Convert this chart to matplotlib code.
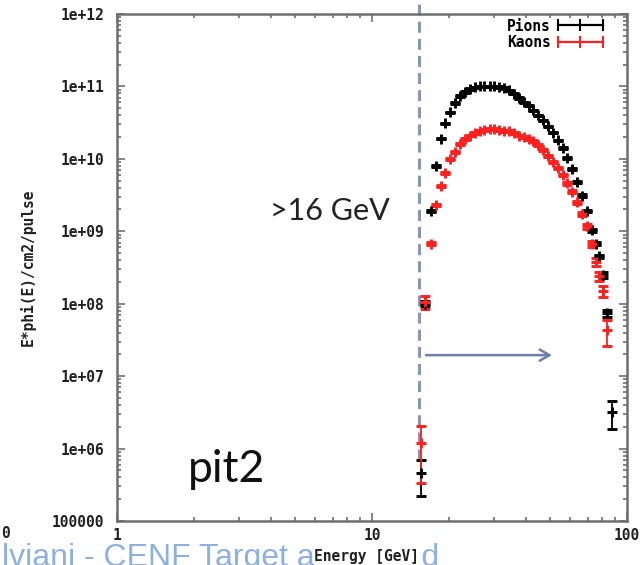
import numpy as np
from matplotlib import pyplot as plt
from matplotlib.lines import Line2D
from matplotlib.legend_handler import HandlerLine2D
from matplotlib.ticker import FixedLocator, NullFormatter

# energy bins [GeV], shared by both series
energy = [15.6, 16.2, 17.0, 17.8, 18.6, 19.4, 20.3, 21.2, 22.2, 23.2, 24.2, 25.3, 26.4, 27.6,
          28.9, 30.2, 31.5, 33.0, 34.4, 36.0, 37.6, 39.3, 41.1, 42.9, 44.8, 46.9, 49.0, 51.2,
          53.5, 55.9, 58.4, 61.0, 63.8, 66.6, 69.6, 72.8, 75.5, 78.0, 80.5, 83.5, 87.0]

pions = [4.6e5, 1.0e8, 1.9e9, 8.0e9, 1.9e10, 3.1e10, 4.4e10, 5.9e10, 7.4e10, 8.4e10, 9.2e10,
         9.7e10, 1.0e11, 1.0e11, 1.0e11, 1.0e11, 9.8e10, 9.5e10, 8.8e10, 7.9e10, 6.9e10, 6.0e10,
         5.4e10, 4.7e10, 4.0e10, 3.4e10, 2.8e10, 2.3e10, 1.8e10, 1.4e10, 1.03e10, 7.2e9, 4.8e9,
         3.1e9, 1.9e9, 1.04e9, 6.7e8, 4.5e8, 2.5e8, 7.4e7, 3.2e6]
pions_relerr = [0.52, 0.08, 0.03, 0.02, 0.02, 0.02, 0.02, 0.02, 0.02, 0.02, 0.02, 0.02, 0.02,
                0.02, 0.02, 0.02, 0.02, 0.02, 0.02, 0.02, 0.02, 0.02, 0.02, 0.02, 0.02, 0.02,
                0.02, 0.02, 0.02, 0.03, 0.03, 0.03, 0.03, 0.04, 0.04, 0.05, 0.05, 0.06, 0.08,
                0.12, 0.42]

kaons = [1.2e6, 1.05e8, 6.7e8, 2.3e9, 4.2e9, 6.4e9, 9.9e9, 1.24e10, 1.6e10, 1.9e10, 2.1e10,
         2.3e10, 2.4e10, 2.5e10, 2.55e10, 2.55e10, 2.5e10, 2.45e10, 2.4e10, 2.27e10, 2.1e10,
         2.0e10, 1.87e10, 1.76e10, 1.55e10, 1.32e10, 1.09e10, 9.0e9, 7.5e9, 6.0e9, 4.6e9, 3.5e9,
         2.5e9, 1.73e9, 1.18e9, 6.7e8, 3.8e8, 2.4e8, 1.5e8, 4.3e7, np.nan]
kaons_relerr = [0.72, 0.20, 0.05, 0.04, 0.03, 0.03, 0.03, 0.03, 0.03, 0.03, 0.03, 0.03, 0.03,
                0.03, 0.03, 0.03, 0.03, 0.03, 0.03, 0.03, 0.03, 0.03, 0.03, 0.03, 0.03, 0.03,
                0.03, 0.03, 0.04, 0.04, 0.05, 0.05, 0.06, 0.07, 0.08, 0.10, 0.12, 0.15, 0.18,
                0.40, 0.0]

series_names = ['Pions', 'Kaons']
series_colors = ['black', '#ff2020']

yticks = [1e5, 1e6, 1e7, 1e8, 1e9, 1e10, 1e11, 1e12]
ytick_labels = ['100000', '1e+06', '1e+07', '1e+08', '1e+09', '1e+10', '1e+11', '1e+12']
xticks = [1, 10, 100]
xtick_labels = ['1', '10', '100']

cut_energy = 15.3          # dashed threshold line
arrow_from, arrow_to, arrow_level = 16.3, 50.8, 1.95e7

mono = {'family': 'DejaVu Sans Mono', 'weight': 'bold', 'size': 10.5}
frame_col = '#6e6e6e'

fig = plt.figure(figsize=(6.44, 5.65), dpi=100)
ax = fig.add_axes([117 / 644, 1 - 521 / 565, 510 / 644, 507 / 565])
ax.set_xscale('log')
ax.set_yscale('log')
ax.set_xlim(1, 100)
ax.set_ylim(1e5, 1e12)

E = np.array(energy)
for vals, rel, col in [(pions, pions_relerr, series_colors[0]), (kaons, kaons_relerr, series_colors[1])]:
    v = np.array(vals)
    ax.errorbar(E, v, yerr=v * np.array(rel), fmt='+', color=col, ms=7, mew=2.1,
                elinewidth=1.3, capsize=3.5, capthick=1.3, zorder=3)

# frame and ticks, gnuplot style
for s in ax.spines.values():
    s.set_color(frame_col)
    s.set_linewidth(1.8)
ax.yaxis.set_major_locator(FixedLocator(yticks))
ax.set_yticklabels(ytick_labels)
ax.set_xticks(xticks)
ax.set_xticklabels(xtick_labels)
ax.xaxis.set_minor_formatter(NullFormatter())
ax.yaxis.set_minor_formatter(NullFormatter())
ax.tick_params(which='both', direction='in', top=True, right=True, color=frame_col, width=1.2)
ax.tick_params(which='major', length=6)
ax.tick_params(which='minor', length=3)
ax.tick_params(axis='y', pad=9)
ax.tick_params(axis='x', pad=5)
for lab in ax.get_xticklabels() + ax.get_yticklabels():
    lab.set_fontproperties(mono)
    lab.set_color('#202020')

ax.set_ylabel('E*phi(E)/cm2/pulse', fontdict=mono, color='#202020', va='center')
ax.yaxis.set_label_coords((28 - 117) / 510, 0.5)
ax.set_xlabel('Energy [GeV]', fontdict=mono, color='#202020', va='center',
              bbox=dict(facecolor='white', edgecolor='none', pad=0.5))
ax.xaxis.set_label_coords((367 - 117) / 510, -(557 - 521) / 507)

# legend
handles = [Line2D([], [], color=c, marker='|', ms=8, mew=1.5, lw=1.6) for c in series_colors]
ax.legend(handles, series_names, loc='upper right', bbox_to_anchor=(0.953, 0.991),
          borderaxespad=0, borderpad=0, numpoints=3, markerfirst=False, frameon=False,
          handlelength=3.1, handletextpad=0.5, labelspacing=0.1, prop=mono,
          handler_map={h: HandlerLine2D(marker_pad=0, numpoints=3) for h in handles})

# slide overlays
ax.plot([cut_energy, cut_energy], [6.9e5, 1.6e12], color='#8a94b5', lw=2.2,
        dashes=(3.6, 2.0), clip_on=False, zorder=2)
ax.annotate('', xy=(arrow_to, arrow_level), xytext=(arrow_from, arrow_level),
            arrowprops=dict(arrowstyle='->, head_length=0.7, head_width=0.4',
                            color='#6f7fa8', lw=1.8, shrinkA=0, shrinkB=0))
fig.text(270 / 644, 1 - 220 / 565, '>16 GeV', family='Lato', size=22, color='#222222',
         va='baseline', ha='left')
fig.text(188 / 644, 1 - 482 / 565, 'pit2', family='Lato', size=32, color='#111111',
         va='baseline', ha='left')
fig.text(1 / 644, 1 - 533 / 565, '0', fontdict=mono, color='#202020', va='center', ha='left')
fig.text(2 / 644, 1 - 566 / 565, 'lviani - CENF Target areas and', family='Liberation Sans',
         size=23, color='#8eb0df', va='baseline', ha='left', zorder=-1)

plt.savefig('out.png', dpi=100)
